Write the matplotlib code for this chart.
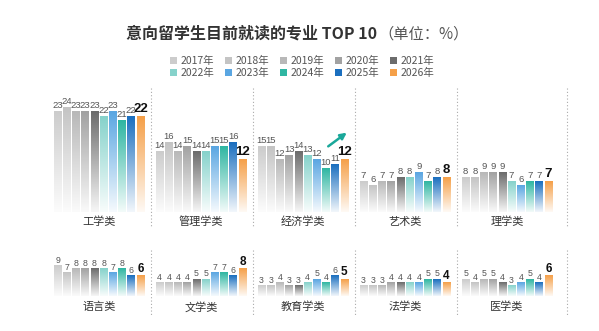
import matplotlib.pyplot as plt
import numpy as np
from matplotlib.patches import Patch
from matplotlib.colors import to_rgb

plt.rcParams['font.family'] = ['Noto Sans CJK SC', 'DejaVu Sans']

years = ['2017年', '2018年', '2019年', '2020年', '2021年',
         '2022年', '2023年', '2024年', '2025年', '2026年']
colors = ['#cccccc', '#c4c4c4', '#b8b8b8', '#a2a2a2', '#6c6c6c',
          '#86d2cb', '#5aa6e2', '#2fb6a2', '#1b6fbf', '#f5a049']

top_names = ['工学类', '管理学类', '经济学类', '艺术类', '理学类']
top_vals = [
    [23, 24, 23, 23, 23, 22, 23, 21, 22, 22],
    [14, 16, 14, 15, 14, 14, 15, 15, 16, 12],
    [15, 15, 12, 13, 14, 13, 12, 10, 11, 12],
    [7, 6, 7, 7, 8, 8, 9, 7, 8, 8],
    [8, 8, 9, 9, 9, 7, 6, 7, 7, 7],
]
bot_names = ['语言类', '文学类', '教育学类', '法学类', '医学类']
bot_vals = [
    [9, 7, 8, 8, 8, 8, 7, 8, 6, 6],
    [4, 4, 4, 4, 5, 5, 7, 7, 6, 8],
    [3, 3, 4, 3, 3, 4, 5, 4, 6, 5],
    [3, 3, 3, 4, 4, 4, 4, 5, 5, 4],
    [5, 4, 5, 5, 4, 3, 4, 5, 4, 6],
]

W, H = 599, 331
fig = plt.figure(figsize=(W / 100, H / 100), dpi=100)


def px_axes(x0, y_top, w, h):
    return fig.add_axes([x0 / W, 1 - (y_top + h) / H, w / W, h / H])


def gradient_bars(ax, vals, ymax, fs, fs_last):
    x = np.arange(len(vals))
    bars = ax.bar(x, vals, width=0.84, color='none', edgecolor='none')
    for b, c in zip(bars, colors):
        rgb = np.array(to_rgb(c))
        t = np.linspace(0, 1, 64)[:, None]  # 0 = top, 1 = bottom
        mix = 0.94 * t
        img = rgb[None, :] * (1 - mix) + mix
        img = img[:, None, :]
        ax.imshow(img, extent=[b.get_x(), b.get_x() + b.get_width(), 0, b.get_height()],
                  aspect='auto', zorder=2, interpolation='bilinear')
    for i, v in enumerate(vals):
        if i == len(vals) - 1:
            ax.text(i, v + ymax * 0.012, str(v), ha='center', va='bottom',
                    fontsize=fs_last, fontweight='bold', color='#111111',
                    family='Liberation Sans')
        else:
            ax.text(i, v + ymax * 0.012, str(v), ha='center', va='bottom',
                    fontsize=fs, color='#555555', family='Liberation Sans')
    ax.set_xlim(-0.5, len(vals) - 0.5)
    ax.set_ylim(0, ymax)
    ax.axis('off')


panel_x = [53, 155, 257, 359, 461]
sep_x = [151, 253, 355, 457, 567]

# top row
for i, (name, vals) in enumerate(zip(top_names, top_vals)):
    ax = px_axes(panel_x[i], 85, 92, 127)
    gradient_bars(ax, vals, 127 / 4.35, 6.8, 9.5)
    fig.text((panel_x[i] + 46) / W, 1 - 222 / H, name, ha='center', va='center',
             fontsize=8, color='#333333')

# bottom row
for i, (name, vals) in enumerate(zip(bot_names, bot_vals)):
    ax = px_axes(panel_x[i], 245, 92, 51)
    gradient_bars(ax, vals, 51 / 3.4, 6.3, 8.5)
    fig.text((panel_x[i] + 46) / W, 1 - 307 / H, name, ha='center', va='center',
             fontsize=8, color='#333333')

# dotted separators
for sx in sep_x:
    fig.add_artist(plt.Line2D([sx / W, sx / W], [1 - 88 / H, 1 - 228 / H],
                              ls=(0, (1, 2)), lw=0.8, color='#aaaaaa'))
    fig.add_artist(plt.Line2D([sx / W, sx / W], [1 - 250 / H, 1 - 316 / H],
                              ls=(0, (1, 2)), lw=0.8, color='#aaaaaa'))

# trend arrow in 经济学类
fig.add_artist(plt.Annotation('', xy=(349 / W, 1 - 131 / H), xytext=(326 / W, 1 - 148 / H),
                              xycoords='figure fraction',
                              arrowprops=dict(arrowstyle='-|>', color='#1aa89a', lw=1.8,
                                              mutation_scale=9)))

# title
fig.text(377 / W, 1 - 34 / H, '意向留学生目前就读的专业 TOP 10', ha='right', va='center',
         fontsize=11.5, fontweight='bold', color='#333333')
fig.text(378 / W, 1 - 34 / H, '（单位：%）', ha='left', va='center',
         fontsize=11, color='#555555')

# legend, row-major order (legend fills column first)
order = [0, 5, 1, 6, 2, 7, 3, 8, 4, 9]
handles = [Patch(facecolor=colors[k], edgecolor='none') for k in order]
labels = [years[k] for k in order]
fig.legend(handles, labels, loc='center', bbox_to_anchor=(302 / W, 1 - 67 / H), ncol=5,
           frameon=False, fontsize=7.5, handlelength=0.7, handleheight=0.7,
           handletextpad=0.35, columnspacing=1.0, labelspacing=0.15,
           labelcolor='#555555')

fig.savefig('out.png', dpi=100)
